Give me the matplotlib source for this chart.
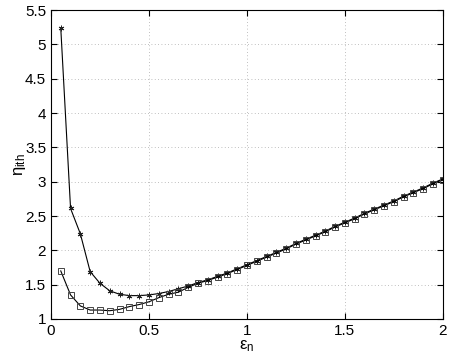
import matplotlib
matplotlib.use("Agg")
import matplotlib.pyplot as plt
from matplotlib.ticker import FormatStrFormatter

plt.rcParams["font.family"] = ["Liberation Sans", "DejaVu Sans"]
plt.rcParams["mathtext.fontset"] = "custom"
plt.rcParams["mathtext.rm"] = "Liberation Sans"
plt.rcParams["mathtext.it"] = "Liberation Sans"

eps_n = [0.05, 0.10, 0.15, 0.20, 0.25, 0.30, 0.35, 0.40, 0.45, 0.50,
         0.55, 0.60, 0.65, 0.70, 0.75, 0.80, 0.85, 0.90, 0.95, 1.00,
         1.05, 1.10, 1.15, 1.20, 1.25, 1.30, 1.35, 1.40, 1.45, 1.50,
         1.55, 1.60, 1.65, 1.70, 1.75, 1.80, 1.85, 1.90, 1.95, 2.00]

eta_star = [5.24, 2.61, 2.24, 1.69, 1.52, 1.41, 1.36, 1.34, 1.34, 1.35,
            1.37, 1.40, 1.44, 1.48, 1.53, 1.57, 1.62, 1.67, 1.73, 1.79,
            1.85, 1.91, 1.97, 2.03, 2.10, 2.16, 2.22, 2.28, 2.35, 2.41,
            2.47, 2.54, 2.60, 2.66, 2.72, 2.79, 2.85, 2.91, 2.98, 3.04]

eta_square = [1.70, 1.35, 1.19, 1.13, 1.13, 1.12, 1.14, 1.18, 1.21, 1.25,
              1.31, 1.36, 1.39, 1.46, 1.52, 1.56, 1.61, 1.66, 1.72, 1.78,
              1.84, 1.90, 1.96, 2.02, 2.09, 2.15, 2.21, 2.27, 2.34, 2.40,
              2.46, 2.53, 2.59, 2.65, 2.71, 2.78, 2.84, 2.90, 2.97, 3.03]

fig = plt.figure(figsize=(4.51, 3.6), dpi=100)
ax = fig.add_axes([0.113, 0.114, 0.869, 0.858])

ax.plot(eps_n, eta_star, color="black", lw=0.8, marker=(6, 2, 0), ms=4,
        mfc="#222222", mec="#222222", mew=0.7)
ax.plot(eps_n, eta_square, color="black", lw=0.8, marker="s", ms=4.5,
        mfc="none", mec="#444444", mew=0.7)

ax.set_xlim(0, 2)
ax.set_ylim(1, 5.5)
ax.set_xticks([0, 0.5, 1, 1.5, 2])
ax.set_yticks([1, 1.5, 2, 2.5, 3, 3.5, 4, 4.5, 5, 5.5])
ax.xaxis.set_major_formatter(FormatStrFormatter("%g"))
ax.yaxis.set_major_formatter(FormatStrFormatter("%g"))
ax.tick_params(direction="in", top=True, right=True, labelsize=11, length=4)
ax.grid(True, linestyle=(0, (1, 3)), color="#aaaaaa", lw=0.6)

ax.set_xlabel(r"$\varepsilon_n$", fontsize=12, labelpad=0)
ax.set_ylabel(r"$\eta_{ith}$", fontsize=12, labelpad=-2)

fig.savefig("out.png", dpi=100)
